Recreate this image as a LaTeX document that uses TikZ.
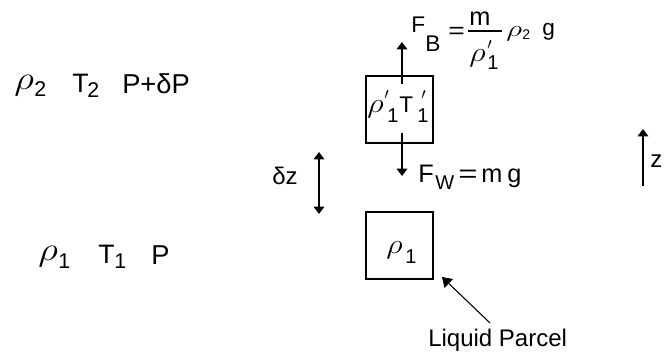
\documentclass[tikz,border=0pt]{standalone}
\usepackage{fontspec}
\setmainfont{Liberation Sans}
\usetikzlibrary{arrows.meta}
\newcommand{\rh}{\scalebox{1.4}[1.2]{$\rho$}}
\newcommand{\rhs}{\scalebox{1.35}[1.0]{$\rho$}}
\newcommand{\prm}{$\scriptstyle\prime$}
\newcommand{\fsz}[1]{\fontsize{#1}{#1}\selectfont}
\begin{document}
\begin{tikzpicture}[x=0.75pt,y=-0.75pt,
  tl/.style={inner sep=0pt,anchor=base west},
  parcel/.style={draw,line width=0.9pt,minimum size=50.25pt,inner sep=0pt},
  arr/.style={line width=0.8pt,-{Triangle[length=5.5pt,width=8pt]}},
  darr/.style={line width=0.8pt,{Triangle[length=5.5pt,width=8pt]}-{Triangle[length=5.5pt,width=8pt]}},
  ptr/.style={line width=0.8pt,-{Triangle[length=7pt,width=9pt]}}]
\useasboundingbox (0,0) rectangle (669,353);
% left column labels: upper level
\node[tl,font=\fsz{20}] (r2) at (14,90) {\rh};
\node[tl,font=\fsz{16}] (r2s) at (34,97) {2};
\node[tl,font=\fsz{20}] (t2) at (72,93) {T};
\node[tl,font=\fsz{16}] (t2s) at (87,98) {2};
\node[tl,font=\fsz{20.5}] (p2) at (122,94) {P+δP};
% left column labels: lower level
\node[tl,font=\fsz{20}] (r1) at (38,261) {\rh};
\node[tl,font=\fsz{16}] (r1s) at (58,268) {1};
\node[tl,font=\fsz{20}] (t1) at (98,264) {T};
\node[tl,font=\fsz{16}] (t1s) at (114,268) {1};
\node[tl,font=\fsz{20.5}] (p1) at (151,265) {P};
% displaced parcel
\node[parcel] (ub) at (399.5,109.5) {};
\node[tl,font=\fsz{17}] (ubr) at (367,113) {\rh};
\node[tl,font=\fsz{17}] (ubp1) at (384,100) {\prm};
\node[tl,font=\fsz{15}] (ubs1) at (387,123) {1};
\node[tl,font=\fsz{17}] (ubT) at (399,113) {T};
\node[tl,font=\fsz{17}] (ubp2) at (421,100) {\prm};
\node[tl,font=\fsz{15}] (ubs2) at (417,123) {1};
% original parcel
\node[parcel] (lb) at (399.5,245.5) {};
\node[tl,font=\fsz{17}] (lbr) at (386,253) {\rh};
\node[tl,font=\fsz{15}] (lbs) at (405,263) {1};
% forces
\coordinate (fbS) at (402,84);
\coordinate (fbE) at (402,42);
\draw[arr] (fbS) -- (fbE);
\coordinate (fwS) at (402,133);
\coordinate (fwE) at (402,176);
\draw[arr] (fwS) -- (fwE);
% F_B formula
\node[tl,font=\fsz{17}] (fb) at (411,33) {F};
\node[tl,font=\fsz{17}] (fbs) at (425,52) {B};
\node[tl,font=\fsz{17}] (feq) at (448,39) {\scalebox{1.25}[1]{=}};
\node[tl,font=\fsz{19}] (fm) at (469,26) {m};
\coordinate (barL) at (468,31);
\coordinate (barR) at (502,31);
\draw[line width=0.8pt] (barL) -- (barR);
\node[tl,font=\fsz{17}] (fdr) at (469,62) {\rh};
\node[tl,font=\fsz{17}] (fdp) at (487,50) {\prm};
\node[tl,font=\fsz{15}] (fds) at (487,70) {1};
\node[tl,font=\fsz{17}] (f2r) at (506,37) {\rhs};
\node[tl,font=\fsz{10.5}] (f2s) at (522,40) {2};
\node[tl,font=\fsz{17}] (fg) at (542,36) {g};
% F_W formula
\node[tl,font=\fsz{19}] (fw) at (418,183) {F};
\node[tl,font=\fsz{15}] (fws) at (435,190) {W};
\node[tl,font=\fsz{19}] (fweq) at (458,183) {\scalebox{1.3}[1]{=}};
\node[tl,font=\fsz{19}] (fwm) at (481,183) {m};
\node[tl,font=\fsz{19}] (fwg) at (507,183) {g};
% dz
\node[tl,font=\fsz{18}] (dz) at (272,185) {δz};
\coordinate (dzT) at (319,152);
\coordinate (dzB) at (319,214);
\draw[darr] (dzB) -- (dzT);
% z axis
\coordinate (zB) at (643,186);
\coordinate (zT) at (643,129);
\draw[arr] (zB) -- (zT);
\node[tl,font=\fsz{18}] (zl) at (650,168) {z};
% liquid parcel label
\node[tl,font=\fsz{18}] (lp) at (428,347) {Liquid Parcel};
\coordinate (lpS) at (490,323);
\coordinate (lpE) at (442,277);
\draw[ptr] (lpS) -- (lpE);
\end{tikzpicture}
\end{document}
